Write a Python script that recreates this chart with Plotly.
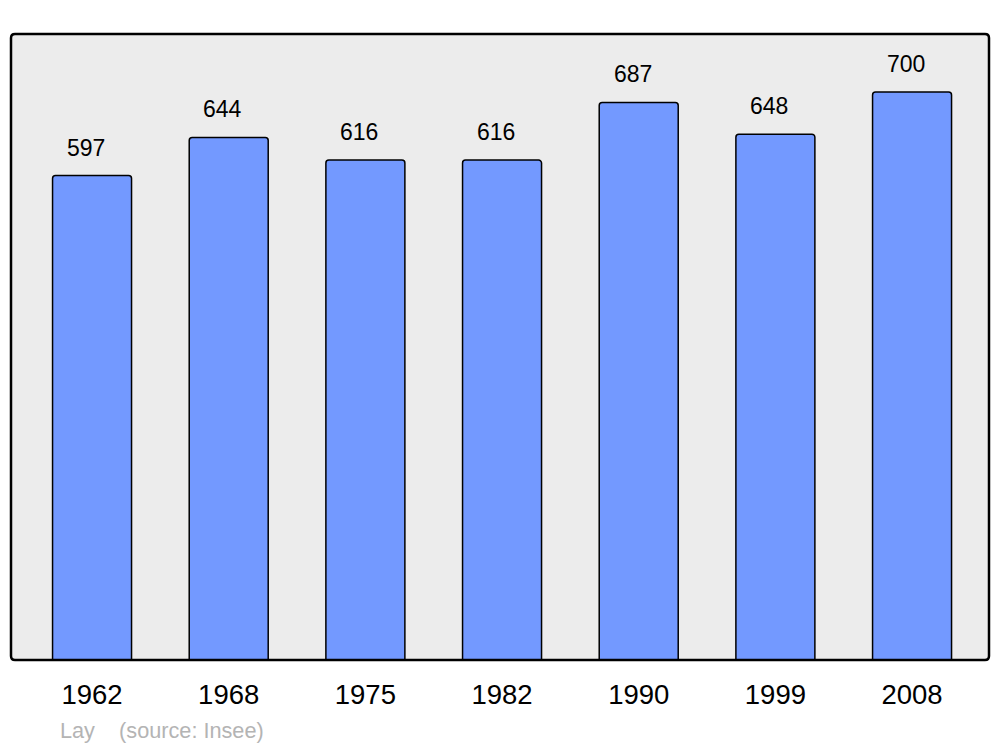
import plotly.graph_objects as go

years = ["1962", "1968", "1975", "1982", "1990", "1999", "2008"]
population = [597, 644, 616, 616, 687, 648, 700]
place = "Lay"
source = "(source: Insee)"

FONT = "Liberation Sans, Arial, sans-serif"
x_pos = list(range(len(years)))

fig = go.Figure()
fig.add_trace(go.Bar(
    x=x_pos, y=population,
    width=0.578,
    marker=dict(color="#7399ff", line=dict(color="black", width=1.5), cornerradius=3),
    hoverinfo="x+y",
))

# value labels sit a bit left of the bar centre in the original
for x, v in zip(x_pos, population):
    fig.add_annotation(x=x, y=v, text=str(v), showarrow=False,
                       yanchor="bottom", yshift=13, xshift=-6,
                       font=dict(family=FONT, size=23, color="black"))

fig.add_annotation(xref="paper", yref="paper", x=0.048, y=-0.112,
                   xanchor="left", yanchor="middle", showarrow=False,
                   text=place + "&nbsp;&nbsp;&nbsp;&nbsp;" + source,
                   font=dict(family=FONT, size=21.7, color="#b4b4b4"))

# rounded plot frame
rx, ry = 4 / 978, 4 / 626
path = (f"M {rx},0 L {1-rx},0 Q 1,0 1,{ry} L 1,{1-ry} Q 1,1 {1-rx},1 "
        f"L {rx},1 Q 0,1 0,{1-ry} L 0,{ry} Q 0,0 {rx},0 Z")
fig.add_shape(type="path", xref="paper", yref="paper", path=path,
              line=dict(color="black", width=2.5), layer="above")

fig.update_layout(
    width=1000, height=747,
    margin=dict(l=11, r=11, t=34, b=87),
    paper_bgcolor="white",
    plot_bgcolor="#ececec",
    showlegend=False,
    font=dict(family=FONT),
    xaxis=dict(range=[-0.593, 6.563], tickvals=x_pos, ticktext=years,
               showgrid=False, zeroline=False, showline=False,
               ticks="", ticklabelstandoff=15,
               tickfont=dict(family=FONT, size=27.5, color="black"),
               fixedrange=True),
    yaxis=dict(range=[0, 771.4], showgrid=False, zeroline=False,
               showticklabels=False, showline=False, fixedrange=True),
)

fig.write_html("out.html", config={"displayModeBar": False},
               post_script="document.body.style.margin='0px';")
